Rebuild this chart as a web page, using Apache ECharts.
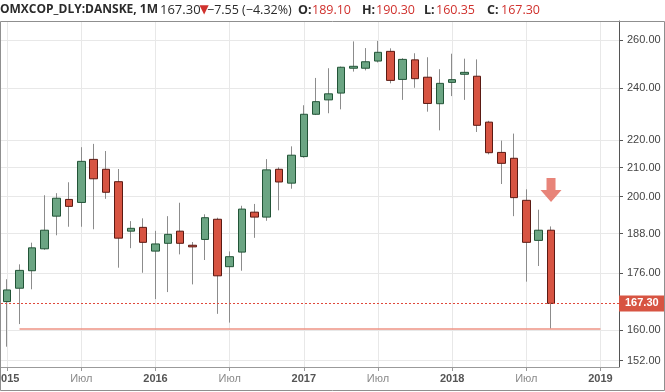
<!DOCTYPE html>
<html>
<head>
<meta charset="utf-8">
<script src="https://cdn.jsdelivr.net/npm/echarts@6/dist/echarts.min.js"></script>
<style>html,body{margin:0;padding:0;background:#fff}#c{width:665px;height:392px}</style>
</head>
<body>
<div id="c"></div>
<script>
// ---- data ----
var months = [];
(function(){ for (var y = 2015; y <= 2019; y++) for (var m = 1; m <= 12; m++) { if (y === 2019 && m > 2) break; months.push(y + '-' + (m < 10 ? '0' + m : m)); } })();
var opens  = [167.8,171.6,176.7,183.3,193.6,199.1,198.1,212.9,209.4,205.1,188.8,190.0,
              182.6,185.0,188.8,184.4,186.2,192.6,177.9,182.3,194.9,193.3,209.4,204.6,
              213.9,229.6,235.2,237.9,248.0,248.0,251.0,255.1,243.4,251.5,244.3,233.7,
              242.2,245.5,244.7,226.6,215.4,213.3,198.8,185.9,189.10];
var closes = [171.1,176.8,183.6,189.1,199.5,196.8,212.2,206.1,201.5,186.6,189.7,185.3,
              184.8,187.8,185.0,183.9,193.1,175.2,180.9,195.9,193.3,209.2,205.0,214.4,
              229.6,234.5,237.6,248.4,248.8,250.7,254.7,243.0,251.7,243.7,233.8,241.8,
              243.3,246.3,225.4,215.3,211.5,199.7,185.3,189.1,167.30];
var lows   = [155.6,161.6,171.3,183.0,187.5,190.2,190.2,189.4,199.3,177.6,183.5,176.1,
              168.5,170.5,181.6,172.7,179.9,164.4,162.0,176.7,186.7,192.1,195.5,202.7,
              213.5,229.3,230.0,231.5,246.6,247.1,250.4,241.8,235.2,240.0,230.6,223.5,
              236.7,235.2,222.9,214.7,204.3,193.6,173.5,178.1,160.35];
var highs  = [174.2,178.6,185.2,200.5,201.2,204.9,217.3,218.5,215.9,209.5,192.0,192.9,
              188.9,193.6,198.0,185.4,194.2,193.1,182.5,197.0,197.6,213.0,210.1,217.6,
              233.1,244.0,248.0,248.7,259.4,256.5,259.6,256.4,252.2,254.3,252.6,247.6,
              254.1,252.0,251.7,227.1,219.7,222.3,202.5,195.7,190.30];
var yTicks = [152,160,176,188,200,210,220,240,260];
var lastClose = 167.30;
var supportLow = 160.35;
var arrowPrice = 202.3;

// ---- build ----
var ohlc = [], bodies = [];
for (var i = 0; i < opens.length; i++) {
  ohlc.push([opens[i], closes[i], lows[i], highs[i]]);
  bodies.push([opens[i], closes[i], Math.min(opens[i], closes[i]), Math.max(opens[i], closes[i])]);
}
function isMark(idx){ var m = months[idx].slice(5); return m === '01' || m === '07'; }

var chart = echarts.init(document.getElementById('c'), null, {renderer:'canvas'});
var RED = '#d75442', GREEN = '#6ba583', TXTRED = '#d0312d', DARK = '#2b2b2b';
function hdr(x, txt, opt){
  opt = opt || {};
  return { type: 'text', x: x, y: 4, z: 100, silent: true,
    style: { text: txt, fontFamily: opt.ff || 'Open Sans', fontSize: opt.fs || 12.5,
      fontWeight: opt.bold ? 'bold' : 'normal', fill: opt.red ? TXTRED : DARK } };
}
chart.setOption({
  animation: false,
  backgroundColor: '#ffffff',
  grid: { left: 1, right: 46, top: 21, bottom: 25, outerBoundsMode: 'none', containLabel: false },
  xAxis: {
    type: 'category',
    data: months,
    boundaryGap: true,
    axisLine: { show: true, lineStyle: { color: '#9a9a9a' } },
    axisTick: { show: true, alignWithLabel: true, length: 4, interval: function(i){ return isMark(i); }, lineStyle: { color: '#9a9a9a' } },
    splitLine: { show: true, alignWithLabel: true, interval: function(i){ return isMark(i); }, lineStyle: { color: '#e8e8e8', width: 1 } },
    axisLabel: {
      interval: 0, margin: 6, hideOverlap: false,
      formatter: function(v){
        var m = v.slice(5);
        if (m === '01') return '{y|' + v.slice(0,4) + '}';
        if (m === '07') return '{m|Июл}';
        return '';
      },
      rich: {
        y: { fontFamily: 'Liberation Sans', fontSize: 11, fontWeight: 'bold', color: '#555' },
        m: { fontFamily: 'Liberation Sans', fontSize: 11, color: '#8a8a8a' }
      }
    }
  },
  yAxis: {
    type: 'log',
    logBase: 10,
    position: 'right',
    min: 150.4,
    max: 268.4,
    axisLine: { show: true, lineStyle: { color: '#555' } },
    axisTick: { show: true, length: 4, customValues: yTicks, lineStyle: { color: '#555' } },
    splitLine: { show: true, lineStyle: { color: '#e8e8e8' } },
    axisLabel: { customValues: yTicks, margin: 8, fontFamily: 'Liberation Sans', fontSize: 11, color: '#444',
      formatter: function(v){ return Number(v).toFixed(2); } }
  },
  series: [
    {
      type: 'candlestick', name: 'wick', barWidth: 1, z: 2,
      data: ohlc,
      itemStyle: { color: '#8c8c8c', color0: '#8c8c8c', borderColor: '#8c8c8c', borderColor0: '#8c8c8c', borderWidth: 1 },
      markLine: {
        silent: true, symbol: ['none','none'], animation: false,
        data: [
          [ { coord: [1, supportLow], lineStyle: { color: '#ee9385', type: 'solid', width: 1.5 }, label: { show: false } },
            { coord: [48, supportLow] } ],
          [ { coord: [-Infinity, lastClose], lineStyle: { color: '#e0483a', type: [2, 2], width: 1 },
              label: { show: true, position: 'end', distance: 0, formatter: lastClose.toFixed(2),
                backgroundColor: RED, color: '#fff', fontWeight: 'bold', fontFamily: 'Liberation Sans', fontSize: 11,
                padding: [3,6,2,6] } },
            { coord: [Infinity, lastClose] } ]
        ]
      },
      markPoint: {
        silent: true,
        data: [ { coord: [44, arrowPrice], symbol: 'path://M6,0 L15,0 L15,12 L21,12 L10.5,24 L0,12 L6,12 Z',
          symbolSize: [21, 24], itemStyle: { color: '#e46f62', opacity: 0.85 }, label: { show: false } } ]
      }
    },
    {
      type: 'candlestick', name: 'body', barWidth: 8, z: 3,
      data: bodies,
      itemStyle: { color: GREEN, color0: RED, borderColor: '#225437', borderColor0: '#5b1a13', borderWidth: 1 }
    }
  ],
  graphic: [
    { type: 'rect', silent: true, z: 100, shape: { x: 0.5, y: 21.5, width: 664, height: 369 },
      style: { fill: 'none', stroke: '#8f8f8f', lineWidth: 1 } },
    hdr(0, 'OMXCOP_DLY:DANSKE, 1M', { bold: true, fs: 12 }),
    hdr(160, '167.30', { fs: 13 }),
    hdr(199.5, '▼', { red: true, ff: 'DejaVu Sans', fs: 12 }),
    hdr(207, '−7.55 (−4.32%)'),
    hdr(298, 'O:', { bold: true }), hdr(312, '189.10', { red: true }),
    hdr(362, 'H:', { bold: true }), hdr(376, '190.30', { red: true }),
    hdr(424, 'L:', { bold: true }), hdr(436, '160.35', { red: true }),
    hdr(487, 'C:', { bold: true }), hdr(501, '167.30', { red: true })
  ]
});
</script>
</body>
</html>
